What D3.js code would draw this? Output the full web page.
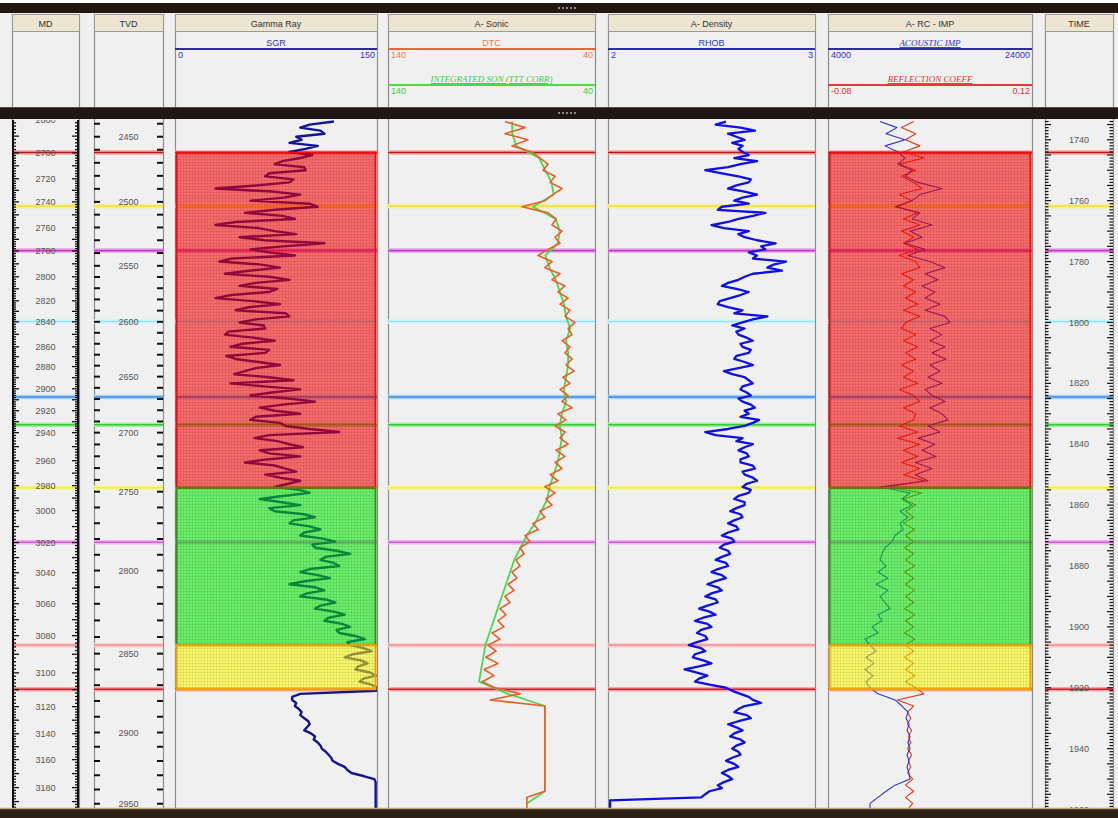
<!DOCTYPE html>
<html><head><meta charset="utf-8">
<script src="https://cdn.jsdelivr.net/npm/d3@7"></script>
<style>html,body{margin:0;padding:0;background:#f0f0f0;overflow:hidden}svg{display:block}</style>
</head><body><svg id="c" width="1118" height="818"></svg>
<script>
// ================= DATA =================
const trackTitles = ["MD", "TVD", "Gamma Ray", "A- Sonic", "A- Density", "A- RC - IMP", "TIME"];

// fine-sampled logs: two-way time (ms) = FINE_START + k * FINE_STEP
const FINE_START = 1734, FINE_STEP = 1;
const GR = [118,100,93,108,111,90,94,85,106,97,
  85,102,93,80,74,96,97,70,67,88,
  85,60,30,72,93,81,56,100,106,74,
  52,80,89,45,30,62,74,90,48,66,
  111,80,56,70,89,42,33,64,78,55,
  37,70,85,60,48,76,70,42,30,58,
  78,55,45,82,85,60,48,66,67,40,
  37,58,74,50,41,70,67,38,45,62,
  78,60,52,44,70,88,41,66,93,72,
  56,84,104,80,63,74,93,60,56,78,
  82,100,122,70,59,76,85,95,63,70,
  93,68,52,74,82,90,67,78,93,84,
  74,92,100,80,63,78,93,70,74,96,
  104,88,85,100,108,96,93,110,119,102,
  104,120,130,112,108,118,122,100,93,106,
  115,96,85,104,111,98,93,112,119,108,
  104,118,126,114,111,124,130,120,122,134,
  141,128,130,140,146,132,126,138,143,136,
  134,145,149,140,137,146,150,150,93,87,
  87,90,89,92,94,93,96,99,100,98,
  96,101,104,103,106,108,109,112,114,116,
  117,121,126,128,131,140,148,149,149,149,
  149,149,149,149,149,149,149];
const RHOB = [2.57,2.52,2.64,2.71,2.58,2.62,2.66,2.60,2.65,2.63,
  2.65,2.68,2.61,2.72,2.64,2.58,2.47,2.55,2.63,2.69,
  2.68,2.62,2.58,2.66,2.72,2.65,2.61,2.68,2.55,2.53,
  2.76,2.70,2.63,2.58,2.50,2.56,2.68,2.63,2.66,2.72,
  2.81,2.74,2.76,2.68,2.72,2.70,2.86,2.80,2.77,2.84,
  2.70,2.66,2.63,2.58,2.55,2.62,2.68,2.64,2.59,2.54,
  2.53,2.58,2.65,2.61,2.77,2.70,2.65,2.60,2.66,2.62,
  2.63,2.67,2.70,2.64,2.65,2.69,2.68,2.62,2.61,2.66,
  2.70,2.63,2.56,2.60,2.66,2.68,2.70,2.65,2.64,2.67,
  2.69,2.63,2.65,2.69,2.71,2.66,2.68,2.64,2.73,2.70,
  2.66,2.58,2.47,2.52,2.65,2.62,2.70,2.66,2.63,2.67,
  2.68,2.64,2.64,2.70,2.71,2.65,2.66,2.70,2.72,2.67,
  2.65,2.69,2.68,2.63,2.61,2.66,2.66,2.62,2.59,2.64,
  2.65,2.61,2.58,2.62,2.63,2.58,2.55,2.60,2.61,2.56,
  2.54,2.58,2.59,2.55,2.52,2.57,2.58,2.53,2.50,2.55,
  2.57,2.52,2.48,2.53,2.55,2.50,2.47,2.52,2.53,2.48,
  2.44,2.49,2.52,2.46,2.42,2.48,2.50,2.45,2.43,2.47,
  2.48,2.43,2.39,2.45,2.47,2.42,2.41,2.46,2.50,2.44,
  2.37,2.43,2.48,2.44,2.42,2.49,2.57,2.60,2.64,2.68,
  2.70,2.74,2.66,2.63,2.61,2.67,2.69,2.63,2.58,2.62,
  2.65,2.61,2.59,2.64,2.66,2.62,2.60,2.63,2.64,2.60,
  2.57,2.61,2.63,2.58,2.55,2.58,2.60,2.56,2.53,2.55,
  2.49,2.47,2.45,2.01,2.01,2.01,2.01];

// coarser logs: two-way time (ms) = SAMPLE_START + i * SAMPLE_STEP
const SAMPLE_START = 1734, SAMPLE_STEP = 2;
const DTC = [83.5,73.8,83.5,72.4,80.1,70.4,66.6,62.7,65.1,59.3,
  61.7,55.9,60.3,64.2,75.3,62.7,58.8,60.8,55.9,59.3,
  56.9,62.7,67.5,60.8,64.2,56.9,60.8,54.5,57.9,53.0,
  56.9,52.1,54.5,49.7,53.0,51.1,55.9,52.1,54.5,51.1,
  54.0,50.1,55.5,52.1,56.9,53.0,55.9,51.1,57.9,54.0,
  59.3,54.5,56.9,53.0,58.8,54.5,59.3,55.9,61.7,57.9,
  64.2,59.3,63.7,60.8,66.6,64.2,70.0,67.5,73.8,71.4,
  76.2,74.3,78.2,76.2,80.1,77.7,82.0,79.1,83.5,81.1,
  85.9,83.0,86.9,84.0,89.8,85.9,91.7,87.8,92.7,86.9,
  93.6,88.8,94.6,88.3,76.2,90.7,64.2,64.2,64.2,64.2,
  64.2,64.2,64.2,64.2,64.2,64.2,64.2,64.2,64.2,64.2,
  64.2,72.9,72.9,72.9];
const AI = [9100,10760,9690,11550,9590,10860,11550,10860,12240,11550,
  12820,15180,13020,12240,10570,13020,12240,14200,12040,13220,
  11550,13510,11840,14000,15470,13510,14780,13220,14490,13510,
  14980,13510,15470,15960,14000,15180,14000,15470,14200,15570,
  14000,14980,13800,15180,13510,14200,15470,14000,15180,15760,
  13800,14980,12820,14490,13220,14590,12530,14200,12530,13800,
  9100,12040,11250,12240,11060,11840,11060,11350,10570,10270,
  9590,9290,9100,9690,8900,9880,8710,9880,9100,9590,
  10080,8900,9290,8310,8900,7630,8120,8710,7730,8510,
  7630,8410,7730,8120,8900,10570,11250,11840,11650,11940,
  11750,12040,11840,12040,11750,11940,11750,11940,12040,10570,
  9690,8900,8120,8120];
const RC = [0.004,-0.008,0.006,-0.004,0.010,-0.006,0.014,-0.010,0.006,-0.008,
  0.004,0.012,-0.010,0.002,-0.012,0.008,-0.006,0.010,-0.008,0.004,
  -0.006,0.008,-0.010,0.006,0.010,-0.008,0.004,-0.006,0.006,-0.004,
  0.008,-0.006,0.010,-0.004,-0.008,0.006,-0.006,0.008,-0.004,0.006,
  -0.008,0.004,-0.006,0.008,-0.010,0.004,0.010,-0.006,0.006,0.004,
  -0.010,0.008,-0.012,0.010,-0.006,0.008,-0.008,0.010,-0.006,0.014,
  -0.020,0.012,-0.006,0.006,-0.004,0.004,-0.006,0.005,-0.004,0.004,
  -0.005,0.004,-0.004,0.005,-0.005,0.004,-0.004,0.005,-0.004,0.004,
  -0.005,0.005,-0.004,0.004,-0.005,0.005,-0.004,0.004,-0.005,0.004,
  -0.004,0.005,-0.004,0.006,0.014,-0.012,0.004,-0.002,0.001,-0.002,
  0.002,-0.001,0.001,-0.002,0.002,-0.001,0.001,-0.002,0.003,-0.004,
  0.004,-0.004,0.003,-0.002];
// integrated sonic (TTT corrected)
const TTT_START = 1734, TTT_STEP = 4;
const TTT = [80,80,78,67,64,61,60,70,59,57,
  58,64,62,59,57,55,54,52,54,53,
  53,54,55,54,56,57,56,57,58,60,
  62,63,66,69,73,76,79,81,83,85,
  87,89,91,93,94,95,96,82,64.2,64.2,
  64.2,64.2,64.2,64.2,64.2,64.2,72.9];

// depth-time relationship (time-depth pairs read from the depth tracks)
const mdKnots     = [2680,2700,2720,2740,2760,2780,2800,2820,2840,2860,2880,2900,2920,2940,2960,2980,3000,3020,3040,3060,3080,3100,3120,3140,3160,3180];
const mdKnotTimes = [1733.3,1744.3,1752.8,1760.4,1768.9,1776.5,1785.0,1792.9,1799.8,1808.0,1814.5,1821.8,1829.0,1836.2,1845.4,1853.6,1861.8,1872.3,1882.2,1892.4,1902.9,1915.1,1926.2,1935.1,1943.6,1952.8];
const tvdKnots     = [2450,2500,2550,2600,2650,2700,2750,2800,2850,2900,2950];
const tvdKnotTimes = [1739.0,1760.4,1781.4,1799.8,1817.8,1836.2,1855.6,1881.5,1908.8,1934.7,1958.1];
const timeLabels = [1740,1760,1780,1800,1820,1840,1860,1880,1900,1920,1940,1960];

// formation tops (ms) and zones
const topTimes = [1744.2,1761.8,1776.4,1799.7,1824.5,1833.6,1854.3,1872.2,1906.0,1920.5];
const zoneTop  = [1744.2,1854.3,1906.0];
const zoneBase = [1854.3,1906.0,1920.5];

// ================= STYLE =================
const topColors  = ["#b01c1c","#f2e24a","#c43cc4","#98e4f0","#3d8fdc","#34cc34","#f2ee40","#d45cd4","#f29a9a","#c42030"];
const topHalos   = ["#f6a6a6","#f6ee9a","#eaa6ea","#d4f4f8","#a8d0f4","#a4eca4","#f8f49a","#f0b4f0","#f8cccc","#f6a6a6"];
const zoneFill   = ["#ff0000","#00ee00","#ffff00"];
const zoneStroke = ["#ee0c0c","#3c8c1c","#f0a000"];

const W = 1118, H = 818, plotTop = 120, plotBot = 808;
const tracks = [[12,79],[94,163],[175,377],[388,595],[608,815],[828,1032],[1045,1113]];
const FONT = "'Liberation Sans', Arial, sans-serif";
const SERIF = "'Liberation Serif', 'Times New Roman', serif";

const svg = d3.select("#c");
const defs = svg.append("defs");
const pat = defs.append("pattern").attr("id","grid").attr("width",3).attr("height",3).attr("patternUnits","userSpaceOnUse");
pat.append("path").attr("d","M0 0.5H3M0.5 0V3").attr("stroke","rgba(0,0,0,0.07)").attr("stroke-width",1);

tracks.forEach((t,i)=>{
  defs.append("clipPath").attr("id","clip"+i).append("rect")
    .attr("x",t[0]).attr("y",plotTop).attr("width",t[1]-t[0]).attr("height",plotBot-plotTop);
});

svg.append("rect").attr("width",W).attr("height",H).attr("fill","#f0f0f0");
svg.append("rect").attr("width",W).attr("height",3).attr("fill","#ffffff");

const y = d3.scaleLinear().domain([1733.5,1959.5]).range([plotTop,plotBot]);
const mdToT = d3.scaleLinear().domain(mdKnots).range(mdKnotTimes);
const tvdToT = d3.scaleLinear().domain(tvdKnots).range(tvdKnotTimes);
const gx = d3.scaleLinear().domain([0,150]).range([tracks[2][0],tracks[2][1]]);
const dtx = d3.scaleLinear().domain([140,40]).range([tracks[3][0],tracks[3][1]]);
const rhox = d3.scaleLinear().domain([2,3]).range([tracks[4][0],tracks[4][1]]);
const aix = d3.scaleLinear().domain([4000,24000]).range([tracks[5][0],tracks[5][1]]);
const rcx = d3.scaleLinear().domain([-0.08,0.12]).range([tracks[5][0],tracks[5][1]]);

const line = d3.line();
function curve(g, arr, xs, color, w, t0, dt){
  g.append("path").attr("d", line(arr.map((v,i)=>[xs(v), y(t0+i*dt)])))
    .attr("fill","none").attr("stroke",color).attr("stroke-width",w)
    .attr("stroke-linejoin","round");
}
function tops(g, t){
  topTimes.forEach((tt,k)=>{
    g.append("line").attr("x1",t[0]).attr("x2",t[1]).attr("y1",y(tt)).attr("y2",y(tt))
      .attr("stroke",topHalos[k]).attr("stroke-width",4.5);
    g.append("line").attr("x1",t[0]).attr("x2",t[1]).attr("y1",y(tt)).attr("y2",y(tt))
      .attr("stroke",topColors[k]).attr("stroke-width",1.6);
  });
}
function zones(g, t){
  zoneTop.forEach((zt,k)=>{
    const r = {x:t[0]+1, y:y(zt), w:t[1]-t[0]-2, h:y(zoneBase[k])-y(zt)};
    g.append("rect").attr("x",r.x).attr("y",r.y).attr("width",r.w).attr("height",r.h)
      .attr("fill",zoneFill[k]).attr("fill-opacity",0.56);
    g.append("rect").attr("x",r.x).attr("y",r.y).attr("width",r.w).attr("height",r.h)
      .attr("fill","url(#grid)");
  });
  zoneTop.forEach((zt,k)=>{
    g.append("rect").attr("x",t[0]+1.5).attr("y",y(zt)).attr("width",t[1]-t[0]-3).attr("height",y(zoneBase[k])-y(zt))
      .attr("fill","none").attr("stroke",zoneStroke[k]).attr("stroke-width",2);
  });
}

tracks.forEach(t=>{
  [t[0],t[1]].forEach(x=>{
    svg.append("line").attr("x1",x+0.5).attr("x2",x+0.5).attr("y1",14).attr("y2",plotBot)
      .attr("stroke","#8c8c8c").attr("stroke-width",1.2);
  });
});

const gTracks = tracks.map((t,i)=>svg.append("g").attr("clip-path",`url(#clip${i})`));

{
  const g = gTracks[0], t = tracks[0];
  tops(g,t);
  g.append("line").attr("x1",t[0]+1).attr("x2",t[0]+1).attr("y1",plotTop).attr("y2",plotBot).attr("stroke","#111").attr("stroke-width",2);
  g.append("line").attr("x1",t[1]-1).attr("x2",t[1]-1).attr("y1",plotTop).attr("y2",plotBot).attr("stroke","#111").attr("stroke-width",2);
  for(let d=2670; d<=3200; d+=2){
    const yy = y(mdToT(d)), len = d%10===0 ? 7 : 4;
    g.append("line").attr("x1",t[0]).attr("x2",t[0]+len).attr("y1",yy).attr("y2",yy).attr("stroke","#111").attr("stroke-width",1.3);
    g.append("line").attr("x1",t[1]-len).attr("x2",t[1]).attr("y1",yy).attr("y2",yy).attr("stroke","#111").attr("stroke-width",1.3);
  }
  for(let d=2680; d<=3180; d+=20){
    g.append("text").attr("x",(t[0]+t[1])/2).attr("y",y(mdToT(d))).attr("dy","0.35em")
      .attr("text-anchor","middle").attr("font-family",FONT).attr("font-size",9).attr("fill","#555").text(d);
  }
}
{
  const g = gTracks[1], t = tracks[1];
  tops(g,t);
  for(let d=2440; d<=2960; d+=10){
    const yy = y(tvdToT(d));
    g.append("line").attr("x1",t[0]).attr("x2",t[0]+6).attr("y1",yy).attr("y2",yy).attr("stroke","#111").attr("stroke-width",2);
    g.append("line").attr("x1",t[1]-6).attr("x2",t[1]).attr("y1",yy).attr("y2",yy).attr("stroke","#111").attr("stroke-width",2);
  }
  for(let d=2450; d<=2950; d+=50){
    g.append("text").attr("x",(t[0]+t[1])/2).attr("y",y(tvdToT(d))).attr("dy","0.35em")
      .attr("text-anchor","middle").attr("font-family",FONT).attr("font-size",9).attr("fill","#555").text(d);
  }
}
{
  const g = gTracks[2], t = tracks[2];
  tops(g,t);
  curve(g, GR, gx, "#141490", 2.4, FINE_START, FINE_STEP);
  zones(g,t);
}
{
  const g = gTracks[3], t = tracks[3];
  tops(g,t);
  curve(g, TTT, dtx, "#46dc46", 1.8, TTT_START, TTT_STEP);
  curve(g, DTC, dtx, "#ea5e2a", 1.6, SAMPLE_START, SAMPLE_STEP);
}
{
  const g = gTracks[4], t = tracks[4];
  tops(g,t);
  curve(g, RHOB, rhox, "#1010e6", 2.3, FINE_START, FINE_STEP);
}
{
  const g = gTracks[5], t = tracks[5];
  tops(g,t);
  curve(g, RC, rcx, "#e23a1a", 1.1, SAMPLE_START, SAMPLE_STEP);
  curve(g, AI, aix, "#3232cc", 1.1, SAMPLE_START, SAMPLE_STEP);
  zones(g,t);
}
{
  const g = gTracks[6], t = tracks[6];
  tops(g,t);
  for(let tt=1733; tt<=1960; tt+=1){
    const yy = y(tt), len = tt%5===0 ? 6 : 3.5;
    g.append("line").attr("x1",t[0]).attr("x2",t[0]+len).attr("y1",yy).attr("y2",yy).attr("stroke","#111").attr("stroke-width",1.2);
    g.append("line").attr("x1",t[1]-len).attr("x2",t[1]).attr("y1",yy).attr("y2",yy).attr("stroke","#111").attr("stroke-width",1.2);
  }
  timeLabels.forEach(tt=>{
    g.append("text").attr("x",(t[0]+t[1])/2).attr("y",y(tt)).attr("dy","0.35em")
      .attr("text-anchor","middle").attr("font-family",FONT).attr("font-size",9).attr("fill","#555").text(tt);
  });
}

const hdr = svg.append("g");
hdr.append("rect").attr("x",0).attr("y",3).attr("width",W).attr("height",10).attr("fill","#221812");
tracks.forEach((t,i)=>{
  hdr.append("rect").attr("x",t[0]+0.5).attr("y",14.5).attr("width",t[1]-t[0]).attr("height",17)
    .attr("fill","#ebe5d2").attr("stroke","#9a9a9a").attr("stroke-width",1);
  hdr.append("text").attr("x",(t[0]+t[1])/2).attr("y",23.5).attr("dy","0.35em").attr("text-anchor","middle")
    .attr("font-family",FONT).attr("font-size",9).attr("fill","#333").text(trackTitles[i]);
});
const headerCurves = [
  {track:2, name:"SGR", sc:gx, color:"#3434a8", row:0, serif:false},
  {track:3, name:"DTC", sc:dtx, color:"#ec7a4a", row:0, serif:false},
  {track:3, name:"INTEGRATED SON (TTT CORR)", sc:dtx, color:"#3ccc3c", row:1, serif:true},
  {track:4, name:"RHOB", sc:rhox, color:"#3434c8", row:0, serif:false},
  {track:5, name:"ACOUSTIC IMP", sc:aix, color:"#3434b4", row:0, serif:true},
  {track:5, name:"REFLECTION COEFF", sc:rcx, color:"#e03030", row:1, serif:true}
];
const lineColors = {"SGR":"#2a2a9c","DTC":"#e8643a","INTEGRATED SON (TTT CORR)":"#40e040","RHOB":"#2a2ab8","ACOUSTIC IMP":"#2a2aa8","REFLECTION COEFF":"#e83838"};
headerCurves.forEach(c=>{
  const t = tracks[c.track], base = c.row===0 ? 49 : 85;
  hdr.append("text").attr("x",(t[0]+t[1])/2).attr("y",base-3).attr("text-anchor","middle")
    .attr("font-family", c.serif ? SERIF : FONT).attr("font-style", c.serif ? "italic":"normal")
    .attr("font-size", 9).attr("fill", c.color).attr("text-decoration", c.serif ? "underline" : "none").text(c.name);
  hdr.append("line").attr("x1",t[0]).attr("x2",t[1]).attr("y1",base).attr("y2",base)
    .attr("stroke",lineColors[c.name]).attr("stroke-width",2);
  const dom = c.sc.domain();
  hdr.append("text").attr("x",t[0]+3).attr("y",base+6).attr("dy","0.35em").attr("font-family",FONT)
    .attr("font-size",9).attr("fill",c.color).text(dom[0]);
  hdr.append("text").attr("x",t[1]-2).attr("y",base+6).attr("dy","0.35em").attr("text-anchor","end").attr("font-family",FONT)
    .attr("font-size",9).attr("fill",c.color).text(dom[1]);
});
hdr.append("rect").attr("x",0).attr("y",107).attr("width",W).attr("height",12).attr("fill","#1e1714");
hdr.append("line").attr("x1",0).attr("x2",W).attr("y1",107.5).attr("y2",107.5).attr("stroke","#5a4a3a");
[0,1,2,3,4].forEach(k=>{
  hdr.append("rect").attr("x",558+k*4).attr("y",7).attr("width",2).attr("height",2).attr("fill","#8a8a8a");
  hdr.append("rect").attr("x",558+k*4).attr("y",112).attr("width",2).attr("height",2).attr("fill","#8a8a8a");
});
hdr.append("rect").attr("x",0).attr("y",plotBot+1).attr("width",W).attr("height",H-plotBot-1).attr("fill","#2c2016");
hdr.append("line").attr("x1",0).attr("x2",W).attr("y1",plotBot+0.5).attr("y2",plotBot+0.5).attr("stroke","#bfa878").attr("stroke-width",1.5);
</script></body></html>
